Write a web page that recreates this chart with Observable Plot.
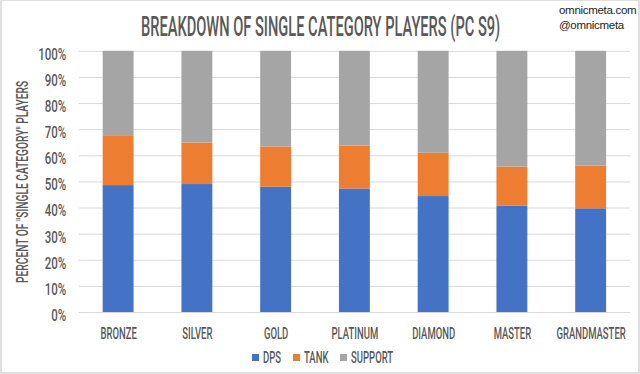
<!DOCTYPE html>
<html>
<head>
<meta charset="utf-8">
<script src="https://cdn.jsdelivr.net/npm/d3@7"></script>
<script src="https://cdn.jsdelivr.net/npm/@observablehq/plot@0.6"></script>
<style>
  html, body { margin: 0; padding: 0; background: #fff; }
  #wrap { position: relative; width: 640px; height: 374px; box-sizing: border-box; overflow: hidden;
    border-top: 1px solid #e0e0e0; border-left: 2px solid #e0e0e0; border-right: 2px solid #e0e0e0; border-bottom: 2px solid #e0e0e0;
    font-family: Roboto, sans-serif; color: #595959; }
  #chart { position: absolute; left: -2px; top: -1px; }
  #title { position: absolute; top: 12px; font-size: 28px; line-height: 28px; white-space: nowrap; color: #595959; transform-origin: 0 0; font-weight: 500; }
  #credit { position: absolute; left: 557px; top: 2px; font-family: "Liberation Sans", Arial, sans-serif; font-size: 11.5px; line-height: 15px; color: #222; letter-spacing: -0.3px; }
  #legend { position: absolute; top: 346px; left: 0; white-space: nowrap; font-size: 17px; line-height: 20px; font-weight: 500; }
  .item { position: absolute; top: 0; }
  .sw { position: absolute; top: 7px; width: 7px; height: 7px; }
  .lt { position: absolute; top: 0; transform-origin: 0 0; }
</style>
</head>
<body>
<div id="wrap">
  <div id="chart"></div>
  <div id="title">BREAKDOWN OF SINGLE CATEGORY PLAYERS (PC S9)</div>
  <div id="credit">omnicmeta.com<br>@omnicmeta</div>
  <div id="legend"></div>
</div>
<script>
const categories = ["Bronze", "Silver", "Gold", "Platinum", "Diamond", "Master", "Grandmaster"];
const series = ["DPS", "Tank", "Support"];
const dps     = [48.6, 49.0, 48.0, 47.3, 44.4, 40.8, 39.7];
const tank    = [19.1, 15.9, 15.4, 16.4, 16.6, 14.9, 16.4];
const support = [32.3, 35.1, 36.6, 36.3, 39.0, 44.3, 43.9];
const colors  = ["#4472C4", "#ED7D31", "#A5A5A5"];
const yTicks  = [0, 0.1, 0.2, 0.3, 0.4, 0.5, 0.6, 0.7, 0.8, 0.9, 1.0];
const yLabel  = 'PERCENT OF "SINGLE CATEGORY" PLAYERS';
const titleText = "BREAKDOWN OF SINGLE CATEGORY PLAYERS (PC S9)";

const values = [dps, tank, support];
const data = [];
categories.forEach((c, i) => {
  series.forEach((s, j) => data.push({category: c, role: s, value: values[j][i] / 100}));
});

const SX = 0.56; // horizontal condensing to mimic narrow display font

const chart = Plot.plot({
  width: 640,
  height: 374,
  marginTop: 51,
  marginBottom: 61,
  marginLeft: 79,
  marginRight: 8,
  style: { fontFamily: "Roboto, sans-serif", color: "#595959", background: "transparent", overflow: "visible", fontWeight: 500 },
  x: { domain: categories, paddingInner: 0.61, paddingOuter: 0.305, label: null },
  y: { domain: [0, 1], label: null },
  color: { domain: series, range: colors },
  marks: [
    Plot.ruleY(yTicks, { stroke: "#d9d9d9", strokeWidth: 1 }),
    Plot.barY(data, { x: "category", y: "value", fill: "role", order: series }),
    Plot.axisY(yTicks, { tickSize: 0, tickPadding: 13, dy: 3, tickFormat: d => Math.round(d * 100) + "%", fontSize: 17, fill: "#595959" }),
    Plot.axisX({ tickSize: 0, tickPadding: 14, tickFormat: d => d.toUpperCase(), fontSize: 17, fill: "#595959" }),
    Plot.text([yLabel], {
      frameAnchor: "left", dx: -57, dy: 0, rotate: -90, fontSize: 16, fill: "#595959", textAnchor: "middle"
    })
  ]
});
document.getElementById("chart").appendChild(chart);

// condense all SVG texts along their reading direction
chart.querySelectorAll("text").forEach(el => {
  const t = el.getAttribute("transform") || "";
  const txt = el.textContent;
  const s = /%$/.test(txt) ? 0.68 : (txt === yLabel ? 0.64 : SX);
  el.setAttribute("transform", t + ` scale(${s},1)`);
});

// title: centered, condensed
const title = document.getElementById("title");
const tw = title.offsetWidth;
const tTarget = 359;
const tScale = tTarget / tw;
title.style.left = (320.5 - tTarget / 2 - 2) + "px";
title.style.transform = `scaleX(${tScale})`;

// legend
const legend = document.getElementById("legend");
const items = [];
series.forEach((s, j) => {
  const it = document.createElement("div");
  it.className = "item";
  const sw = document.createElement("div");
  sw.className = "sw";
  sw.style.background = colors[j];
  sw.style.left = "0px";
  const lt = document.createElement("div");
  lt.className = "lt";
  lt.textContent = s.toUpperCase();
  lt.style.left = "11px";
  lt.style.transform = `scaleX(${SX})`;
  it.appendChild(sw);
  it.appendChild(lt);
  legend.appendChild(it);
  items.push([it, lt]);
});
const gap = 12;
const widths = items.map(([it, lt]) => 11 + lt.offsetWidth * SX);
const total = widths.reduce((a, b) => a + b, 0) + gap * (items.length - 1);
let x = 322.5 - total / 2 - 2;
items.forEach(([it], k) => { it.style.left = x + "px"; x += widths[k] + gap; });
</script>
</body>
</html>
